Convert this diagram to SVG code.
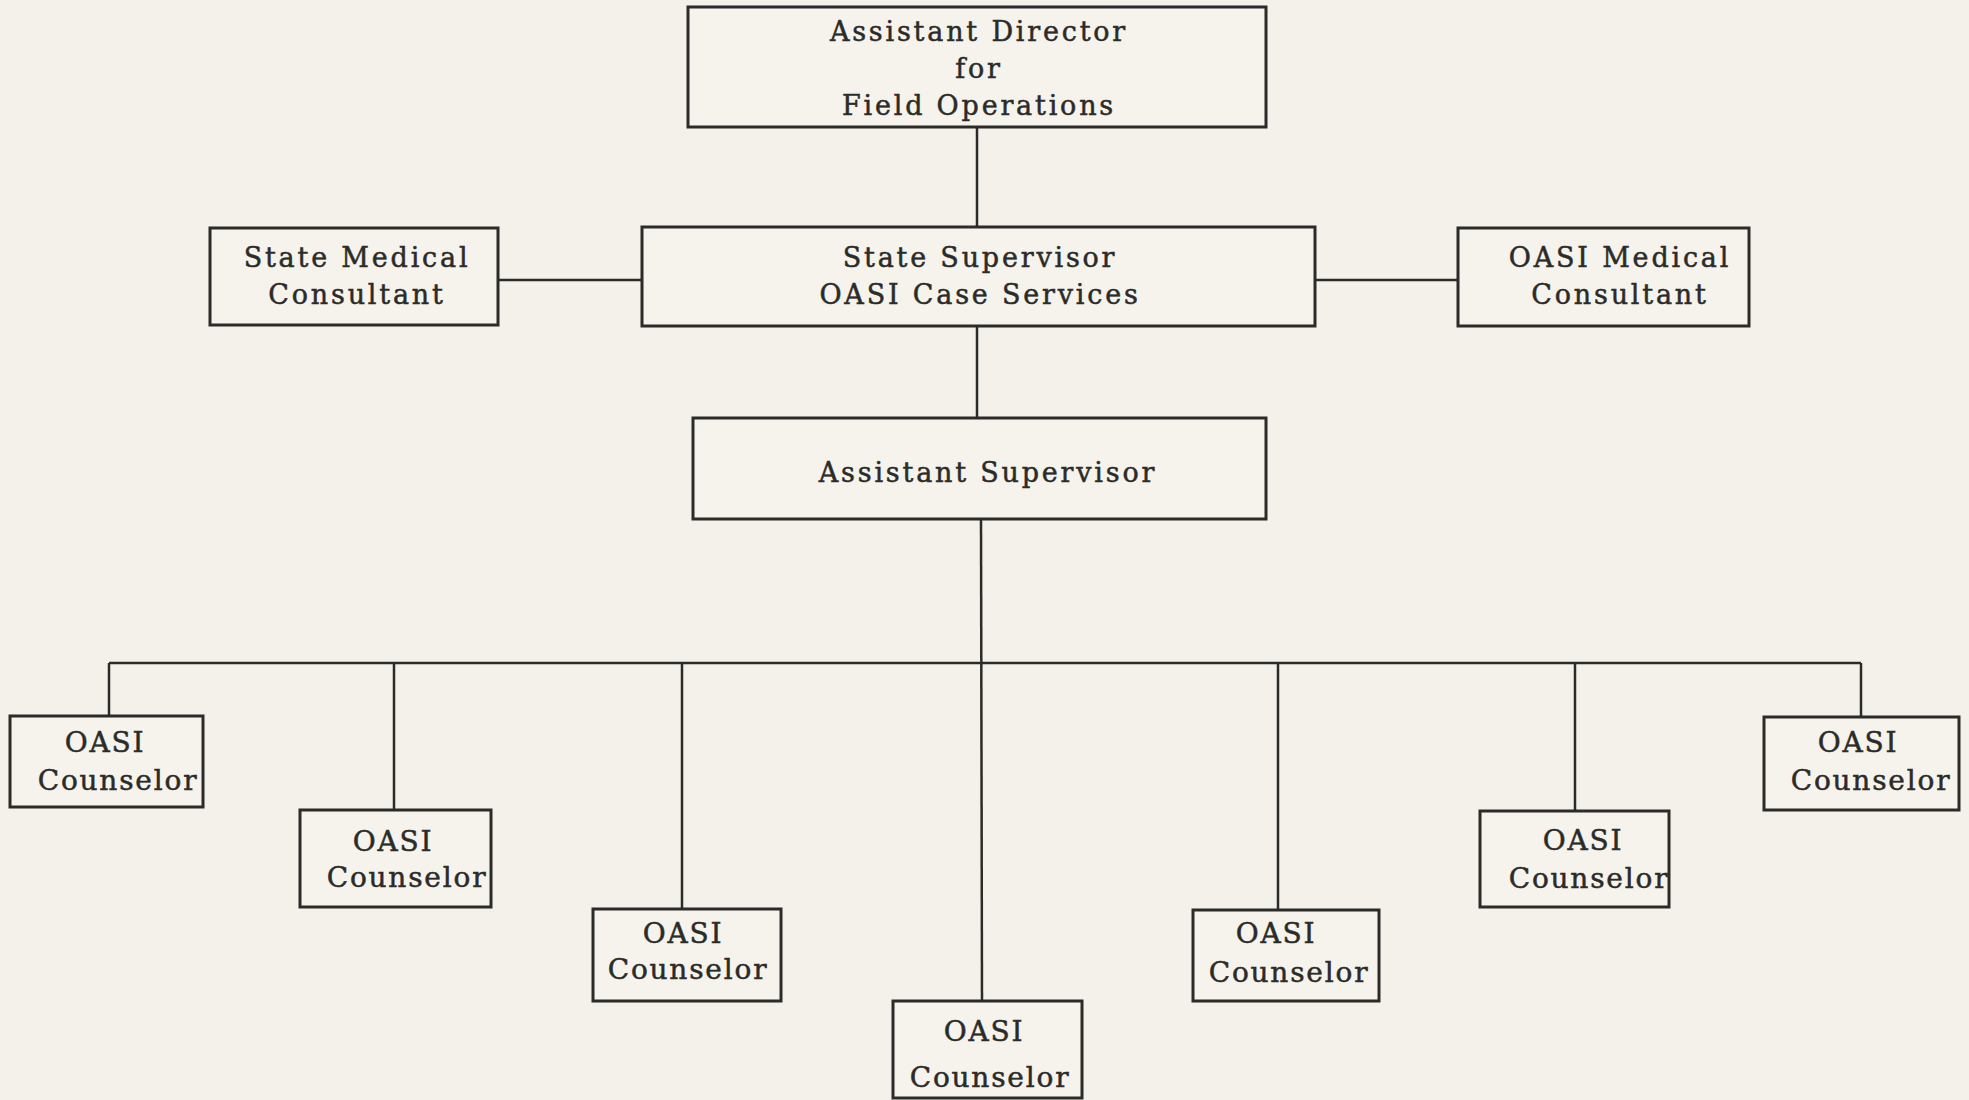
<svg xmlns="http://www.w3.org/2000/svg" width="1969" height="1100" viewBox="0 0 1969 1100">
<style>
.bg{fill:#f3f1e9}
.box{fill:#f5f3ec;stroke:#2b2b29;stroke-width:3}
.ln{fill:none;stroke:#2b2b29;stroke-width:2.5}
text{font-family:"DejaVu Serif","Liberation Serif",serif;fill:#2b2b29;stroke:#2b2b29;stroke-width:0.5;text-anchor:middle}
.t1{font-size:27px;letter-spacing:2.8px}
.t2{font-size:28px;letter-spacing:1.8px}
</style>
<rect class="bg" x="0" y="0" width="1969" height="1100"/>
<g id="connectors">
<line class="ln" x1="977" y1="127" x2="977" y2="227"/>
<line class="ln" x1="498" y1="280" x2="642" y2="280"/>
<line class="ln" x1="1315" y1="280" x2="1458" y2="280"/>
<line class="ln" x1="977" y1="326" x2="977" y2="418"/>
<line class="ln" x1="981" y1="519" x2="982" y2="1001"/>
<line class="ln" x1="109" y1="663" x2="1861" y2="663"/>
<line class="ln" x1="109" y1="663" x2="109" y2="716"/>
<line class="ln" x1="394" y1="663" x2="394" y2="810"/>
<line class="ln" x1="682" y1="663" x2="682" y2="909"/>
<line class="ln" x1="1278" y1="663" x2="1278" y2="910"/>
<line class="ln" x1="1575" y1="663" x2="1575" y2="811"/>
<line class="ln" x1="1861" y1="663" x2="1861" y2="717"/>
</g>
<g id="n-director">
<rect class="box" x="688" y="7" width="578" height="120"/>
<text class="t1" x="979" y="41">Assistant Director</text>
<text class="t1" x="979" y="78">for</text>
<text class="t1" x="979" y="115">Field Operations</text>
</g>
<g id="n-state-medical">
<rect class="box" x="210" y="228" width="288" height="97"/>
<text class="t1" x="357" y="267">State Medical</text>
<text class="t1" x="357" y="304">Consultant</text>
</g>
<g id="n-state-supervisor">
<rect class="box" x="642" y="227" width="673" height="99"/>
<text class="t1" x="980" y="267">State Supervisor</text>
<text class="t1" x="980" y="304">OASI Case Services</text>
</g>
<g id="n-oasi-medical">
<rect class="box" x="1458" y="228" width="291" height="98"/>
<text class="t1" x="1620" y="267">OASI Medical</text>
<text class="t1" x="1620" y="304">Consultant</text>
</g>
<g id="n-assistant-supervisor">
<rect class="box" x="693" y="418" width="573" height="101"/>
<text class="t1" x="988" y="482">Assistant Supervisor</text>
</g>
<g id="n-counselor-1">
<rect class="box" x="10" y="716" width="193" height="91"/>
<text class="t2" x="105" y="752">OASI</text>
<text class="t2" x="118" y="790">Counselor</text>
</g>
<g id="n-counselor-2">
<rect class="box" x="300" y="810" width="191" height="97"/>
<text class="t2" x="393" y="851">OASI</text>
<text class="t2" x="407" y="887">Counselor</text>
</g>
<g id="n-counselor-3">
<rect class="box" x="593" y="909" width="188" height="92"/>
<text class="t2" x="683" y="943">OASI</text>
<text class="t2" x="688" y="979">Counselor</text>
</g>
<g id="n-counselor-4">
<rect class="box" x="893" y="1001" width="189" height="97"/>
<text class="t2" x="984" y="1041">OASI</text>
<text class="t2" x="990" y="1087">Counselor</text>
</g>
<g id="n-counselor-5">
<rect class="box" x="1193" y="910" width="186" height="91"/>
<text class="t2" x="1276" y="943">OASI</text>
<text class="t2" x="1289" y="982">Counselor</text>
</g>
<g id="n-counselor-6">
<rect class="box" x="1480" y="811" width="189" height="96"/>
<text class="t2" x="1583" y="850">OASI</text>
<text class="t2" x="1589" y="888">Counselor</text>
</g>
<g id="n-counselor-7">
<rect class="box" x="1764" y="717" width="195" height="93"/>
<text class="t2" x="1858" y="752">OASI</text>
<text class="t2" x="1871" y="790">Counselor</text>
</g>
</svg>
